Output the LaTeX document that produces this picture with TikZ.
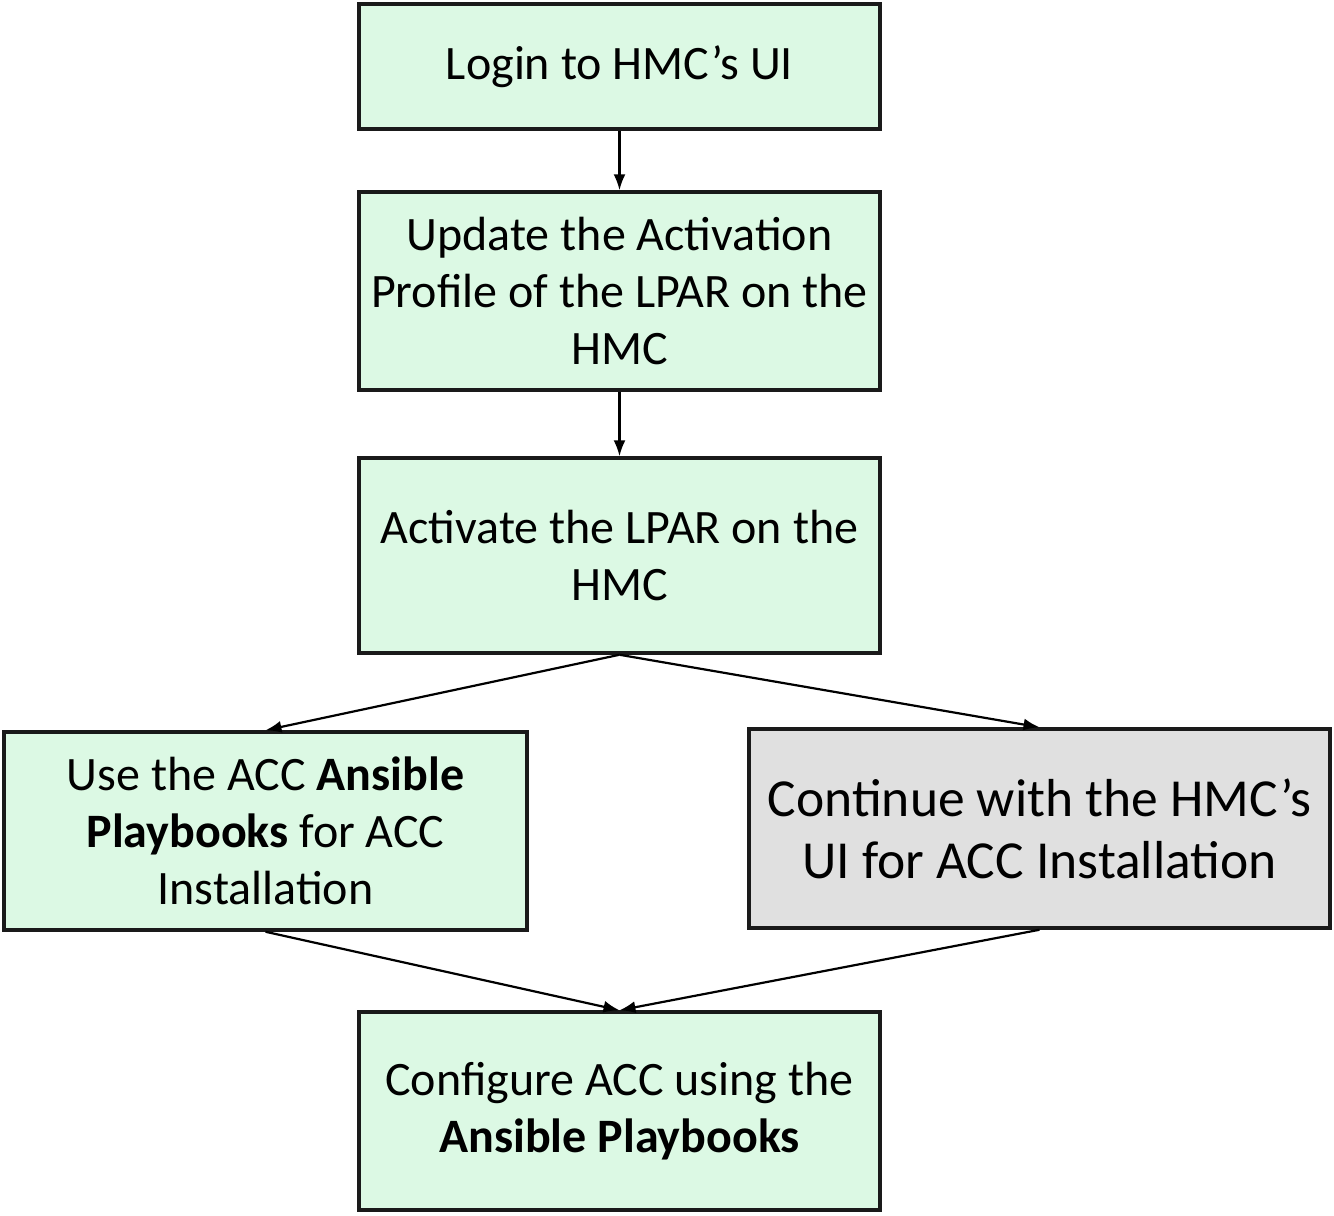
\documentclass[tikz,border=0pt]{standalone}
\usepackage{fontspec}
\setmainfont{Carlito}
\usetikzlibrary{arrows.meta}
\definecolor{boxgreen}{HTML}{DCF9E4}
\definecolor{boxgray}{HTML}{E0E0E0}
\definecolor{edge}{HTML}{1A1A1A}
\begin{document}
\begin{tikzpicture}[x=1pt,y=-1pt,
  flowbox/.style={draw=edge, line width=3.5pt, rectangle, fill=boxgreen, inner sep=0pt,
    align=center, font=\fontsize{48}{57}\selectfont},
  graybox/.style={flowbox, fill=boxgray, font=\fontsize{53.5}{62}\selectfont},
  conn/.style={line width=2.2pt, -{Latex[length=16pt,width=12pt]}}]
\useasboundingbox (0,0) rectangle (1334,1216);
\node[flowbox, minimum width=521pt, minimum height=125pt] (login) at (619.5,66.5) {\raisebox{-3pt}{Login to HMC’s UI}};
\node[flowbox, minimum width=521pt, minimum height=198pt] (update) at (619.5,291) {Update the Activation\\Profile of the LPAR on the\\HMC};
\node[flowbox, minimum width=521pt, minimum height=195pt] (activate) at (619.5,555.5) {Activate the LPAR on the\\HMC};
\node[flowbox, minimum width=523pt, minimum height=198pt] (ansible) at (265.5,831) {Use the ACC \textbf{Ansible}\\\textbf{Playbooks} for ACC\\Installation};
\node[graybox, minimum width=581pt, minimum height=199pt] (hmcui) at (1039.5,828.5) {Continue with the HMC’s\\UI for ACC Installation};
\node[flowbox, minimum width=521pt, minimum height=198pt] (config) at (619.5,1111) {Configure ACC using the\\\textbf{Ansible Playbooks}};
\draw[conn] (login.south) -- (update.north);
\draw[conn] (update.south) -- (activate.north);
\draw[conn] (activate.south) -- (ansible.north);
\draw[conn] (activate.south) -- (hmcui.north);
\draw[conn] (ansible.south) -- (config.north);
\draw[conn] (hmcui.south) -- (config.north);
\end{tikzpicture}
\end{document}
